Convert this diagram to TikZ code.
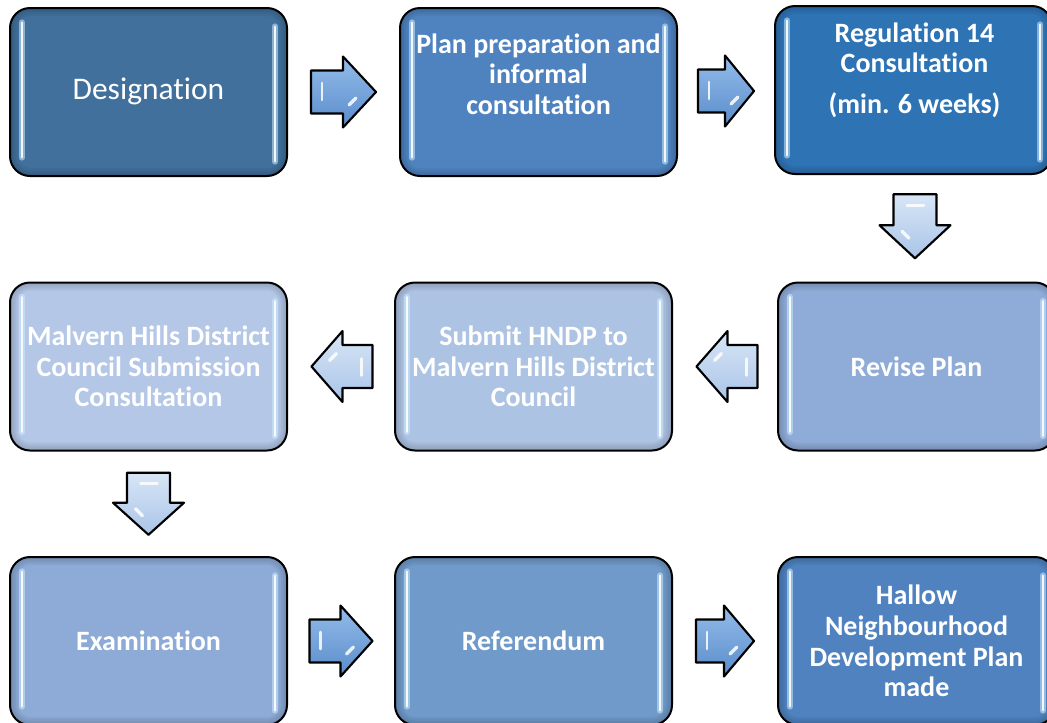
\documentclass[tikz,border=0pt]{standalone}
\usepackage{fontspec}
\setmainfont{Carlito}[Ligatures={NoCommon,NoContextual}, Contextuals=NoAlternate]
\usetikzlibrary{calc}
\definecolor{cA}{HTML}{41709C}
\definecolor{cB}{HTML}{4F83C0}
\definecolor{cC}{HTML}{2E74B5}
\definecolor{cD}{HTML}{B4C7E7}
\definecolor{cE}{HTML}{ADC3E3}
\definecolor{cF}{HTML}{8FACD8}
\definecolor{cG}{HTML}{8DABD6}
\definecolor{cH}{HTML}{6F9AC9}
\definecolor{cI}{HTML}{4F82BE}
\definecolor{glow}{HTML}{CDEBFF}
\definecolor{arLight}{HTML}{93BCEA}
\definecolor{arDark}{HTML}{5A8CCB}
\definecolor{alLight}{HTML}{D8E6F6}
\definecolor{alDark}{HTML}{A9C4E8}
\tikzset{
  box/.style={rectangle, rounded corners=15pt, minimum width=207.75pt, minimum height=126pt,
    draw=black, line width=1.5pt, fill=#1, text=white, align=center,
    font=\fontsize{21}{23}\selectfont\bfseries,
    path picture={
      \foreach \w in {12,9,6,3}{
        \draw[black, opacity=.045, line width=\w pt, rounded corners=15pt]
          (path picture bounding box.south west) rectangle (path picture bounding box.north east);
      }
      \draw[glow, opacity=.55, line width=5pt, line cap=round]
        ([xshift=9pt,yshift=-11pt]path picture bounding box.north west) --
        ([xshift=9pt,yshift=14pt]path picture bounding box.south west);
      \draw[white, opacity=.9, line width=1.8pt, line cap=round]
        ([xshift=9pt,yshift=-11pt]path picture bounding box.north west) --
        ([xshift=9pt,yshift=14pt]path picture bounding box.south west);
      \draw[glow, opacity=.55, line width=5pt, line cap=round]
        ([xshift=-9pt,yshift=-14pt]path picture bounding box.north east) --
        ([xshift=-9pt,yshift=11pt]path picture bounding box.south east);
      \draw[white, opacity=.9, line width=1.8pt, line cap=round]
        ([xshift=-9pt,yshift=-14pt]path picture bounding box.north east) --
        ([xshift=-9pt,yshift=11pt]path picture bounding box.south east);
    }},
  lbl/.style={text=white, align=center, font=\fontsize{21}{23}\selectfont\bfseries},
  arrowline/.style={draw=black, line width=1.6pt, line join=round},
  hilite/.style={white, opacity=.85, line cap=round},
}
% #1 centre, #2 rotation, #3 length, #4 head length, #5 light colour, #6 dark colour
\newcommand\blockarrow[6]{%
  \begin{scope}[shift={#1}, rotate=#2]
    \path[arrowline, top color=#5, bottom color=#6]
      (-#3/2,-21.5) -- (#3/2-#4,-21.5) -- (#3/2-#4,-35.5) -- (#3/2,0)
      -- (#3/2-#4,35.5) -- (#3/2-#4,21.5) -- (-#3/2,21.5) -- cycle;
    \draw[hilite, line width=2.2pt]
      (-#3/2+11,-9) -- (-#3/2+11,8);
    \draw[hilite, line width=2.6pt]
      (#3/2-#4+6,13) -- (#3/2-#4+13,6);
  \end{scope}}
\begin{document}
\begin{tikzpicture}[x=0.75pt, y=-0.75pt]
  \useasboundingbox (0,0) rectangle (1047,722);
  \clip (0,0) rectangle (1047,722);
  \fill[white] (0,0) rectangle (1047,722);

  % row 1
  \node[box=cA] (b1) at (148.5,92) {};
  \node[text=white, font=\fontsize{23.6}{26}\selectfont] (t1) at (148.5,91) {Designation};
  \node[box=cB] (b2) at (538.5,92) {};
  \node[lbl] (t2) at (538.5,74) {Plan preparation and\\informal\\consultation};
  \node[box=cC] (b3) at (913.5,90) {};
  \node[lbl] (t3) at (914.5,70) {Regulation 14\\Consultation\\[7.5pt](min. 6 weeks)};

  % row 2
  \node[box=cD] (b4) at (148.5,366.5) {Malvern Hills District\\Council Submission\\Consultation};
  \node[box=cE] (b5) at (533.5,366.5) {Submit HNDP to\\Malvern Hills District\\Council};
  \node[box=cF] (b6) at (916.5,366.5) {Revise Plan};

  % row 3
  \node[box=cG] (b7) at (148.5,641) {Examination};
  \node[box=cH] (b8) at (533.5,641) {Referendum};
  \node[box=cI] (b9) at (916.5,641) {Hallow\\Neighbourhood\\Development Plan\\made};

  % block arrows between the boxes
  \blockarrow{($(b1.east)!.5!(b2.west)$)}{0}{65}{33}{arLight}{arDark}
  \blockarrow{($(b2.east)!.5!(b3.west)$)}{0}{56}{29}{arLight}{arDark}
  \blockarrow{($(b3.south)!.5!(b6.north)+(0,-2)$)}{-90}{64}{33}{alLight}{alDark}
  \blockarrow{($(b6.west)!.5!(b5.east)+(2,0)$)}{180}{61}{31}{alLight}{alDark}
  \blockarrow{($(b5.west)!.5!(b4.east)+(1,0)$)}{180}{61}{31}{alLight}{alDark}
  \blockarrow{($(b4.south)!.5!(b7.north)$)}{-90}{62}{32}{alLight}{alDark}
  \blockarrow{($(b7.east)!.5!(b8.west)$)}{0}{63}{32}{arLight}{arDark}
  \blockarrow{($(b8.east)!.5!(b9.west)$)}{0}{58}{30}{arLight}{arDark}
\end{tikzpicture}
\end{document}
